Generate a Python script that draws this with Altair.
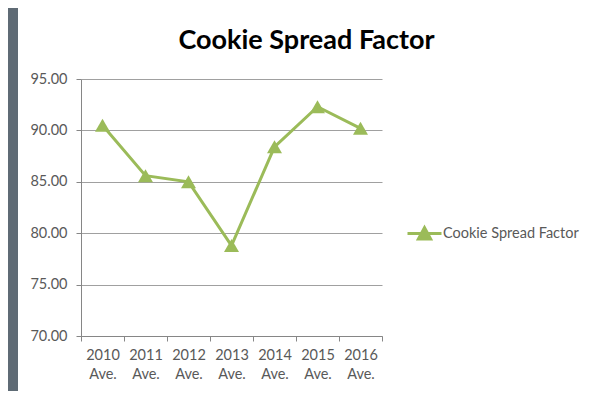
import altair as alt
import pandas as pd

years = ["2010 Ave.", "2011 Ave.", "2012 Ave.", "2013 Ave.", "2014 Ave.", "2015 Ave.", "2016 Ave."]
values = [90.5, 85.6, 85.0, 78.8, 88.4, 92.3, 90.2]
series_name = "Cookie Spread Factor"
y_ticks = [70, 75, 80, 85, 90, 95]

df = pd.DataFrame({"year": years, "value": values, "series": [series_name] * len(years)})

GREEN = "#9BBB59"
FONT = "Lato"
AXIS_GRAY = "#868686"
LABEL = "#595959"

base = alt.Chart(df)

line = base.mark_line(
    strokeWidth=3,
    point=alt.OverlayMarkDef(shape="triangle-up", size=225, filled=True, opacity=1, color=GREEN),
).encode(
    x=alt.X(
        "year:N",
        sort=years,
        bandPosition=0.5,
        scale=alt.Scale(type="band", paddingInner=0, paddingOuter=0),
        axis=alt.Axis(
            title=None,
            labelAngle=0,
            labelExpr="split(datum.label, ' ')",
            labelLineHeight=19,
            tickBand="extent",
            tickSize=5,
            labelPadding=7,
            grid=False,
            labelFont=FONT,
            labelFontSize=14.5,
            labelColor=LABEL,
            domainColor=AXIS_GRAY,
            tickColor=AXIS_GRAY,
        ),
    ),
    y=alt.Y(
        "value:Q",
        scale=alt.Scale(domain=[70, 95], nice=False, zero=False),
        axis=alt.Axis(
            values=y_ticks,
            format=".2f",
            title=None,
            tickSize=5,
            labelPadding=9,
            grid=True,
            gridColor="#a0a0a0",
            gridOpacity=1,
            labelFont=FONT,
            labelFontSize=14.5,
            labelColor=LABEL,
            domainColor=AXIS_GRAY,
            tickColor=AXIS_GRAY,
        ),
    ),
    color=alt.Color(
        "series:N",
        scale=alt.Scale(range=[GREEN]),
        legend=alt.Legend(
            title=None,
            orient="none",
            legendX=325,
            legendY=136,
            symbolType="M-1,0L1,0M-0.36,0.32L0,-0.34L0.36,0.32Z",
            symbolSize=1156,
            symbolStrokeWidth=3,
            symbolFillColor=GREEN,
            symbolStrokeColor=GREEN,
            labelOffset=0,
            labelFont=FONT,
            labelFontSize=14.5,
            labelColor=LABEL,
        ),
    ),
)

strip = alt.Chart(pd.DataFrame({"a": [0]})).mark_rect(color="#5f6b75").encode(
    x=alt.value(-73), x2=alt.value(-63), y=alt.value(-71), y2=alt.value(320)
)

chart = alt.layer(strip, line).properties(
    width=301,
    height=257,
    background="white",
    autosize=alt.AutoSizeParams(type="none"),
    padding={"left": 73, "top": 71, "right": 210, "bottom": 55},
    title=alt.TitleParams(
        series_name,
        font=FONT,
        fontSize=27,
        fontWeight="bold",
        color="black",
        anchor="middle",
        frame="group",
        dx=75,
        offset=-47,
    ),
).configure_view(strokeWidth=0)

chart.save("out.html", embed_options={"renderer": "svg", "actions": False})
